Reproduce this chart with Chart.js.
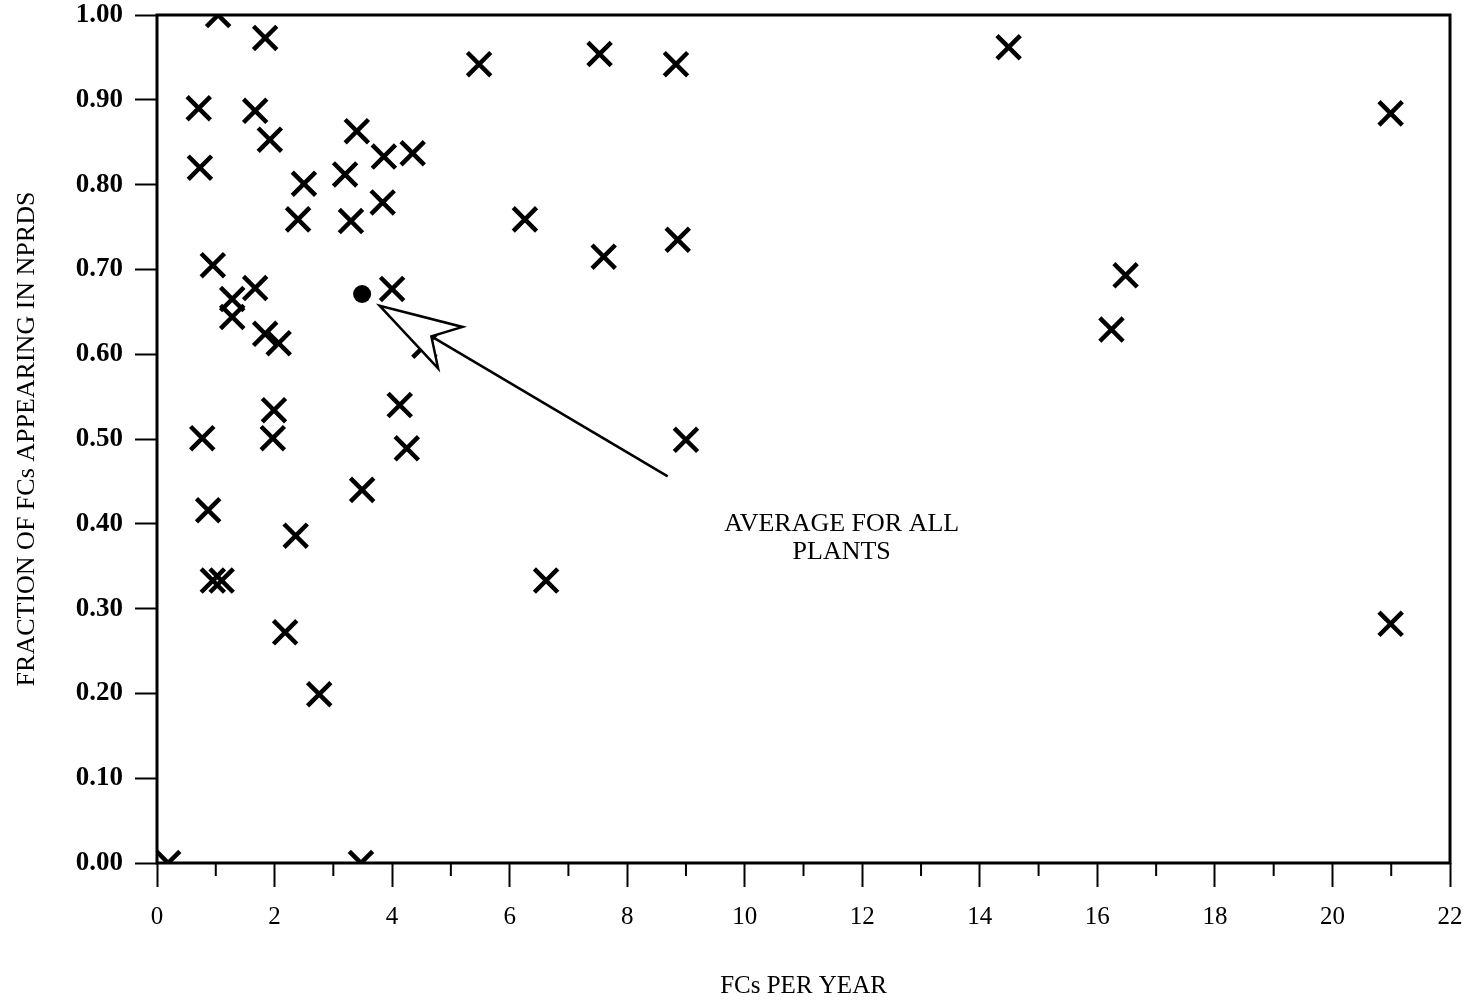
<!DOCTYPE html>
<html>
<head>
<meta charset="utf-8">
<title>Fraction of FCs appearing in NPRDS</title>
<script src="https://cdn.jsdelivr.net/npm/chart.js@4.4.1/dist/chart.umd.min.js"></script>
<style>
  html, body { margin: 0; padding: 0; background: #fff; }
  #wrap { width: 1470px; height: 1001px; }
</style>
</head>
<body>
<div id="wrap"><canvas id="fcChart" width="1470" height="1001"></canvas></div>
<script>
// ---- Data ----
const plantFcs = [
    1.04, 1.84, 0.71, 1.67, 1.92, 0.73, 2.50, 3.20, 3.40, 3.86,
    4.35, 2.40, 3.30, 3.84, 0.95, 1.67, 1.28, 1.28, 1.84, 2.07,
    4.00, 4.55, 1.99, 0.77, 1.97, 4.13, 4.25, 3.49, 0.87, 0.95,
    1.10, 2.36, 2.18, 2.76, 0.19, 3.47, 5.48, 7.53, 8.83, 6.26,
    7.60, 8.86, 9.00, 6.62, 14.49, 16.24, 16.48, 20.99, 20.99
];
const plantFrac = [
    1.000, 0.973, 0.890, 0.887, 0.853, 0.820, 0.801, 0.812, 0.863, 0.833,
    0.837, 0.759, 0.757, 0.779, 0.705, 0.678, 0.665, 0.644, 0.624, 0.613,
    0.677, 0.610, 0.534, 0.501, 0.501, 0.540, 0.489, 0.440, 0.416, 0.333,
    0.333, 0.386, 0.272, 0.199, 0.000, 0.000, 0.942, 0.954, 0.942, 0.759,
    0.715, 0.735, 0.499, 0.333, 0.962, 0.629, 0.693, 0.884, 0.282
];
const avgFcs = [3.49];
const avgFrac = [0.671];

// annotation (data units)
const arrowTip = [3.79, 0.657];
const arrowTail = [8.69, 0.456];
const noteAt = [11.65, 0.40];
const noteLines = ['AVERAGE FOR ALL', 'PLANTS'];

const SERIF = 'Liberation Serif';

// ---- Frame, minor ticks, arrow + note ----
const frameAndNotes = {
    id: 'frameAndNotes',
    afterDatasetsDraw(chart) {
        const { ctx, chartArea: a, scales: { x, y } } = chart;
        ctx.save();

        // short ticks on the odd values
        ctx.strokeStyle = '#000';
        ctx.lineWidth = 2;
        x.ticks.forEach(t => {
            if (t.value % 2 !== 0) {
                const px = x.getPixelForValue(t.value);
                ctx.beginPath();
                ctx.moveTo(px, a.bottom);
                ctx.lineTo(px, a.bottom + 13);
                ctx.stroke();
            }
        });

        // box round the plot
        ctx.lineWidth = 3;
        ctx.strokeRect(a.left, a.top, a.right - a.left, a.bottom - a.top);

        // hollow arrow
        const tx = x.getPixelForValue(arrowTip[0]), ty = y.getPixelForValue(arrowTip[1]);
        const ex = x.getPixelForValue(arrowTail[0]), ey = y.getPixelForValue(arrowTail[1]);
        const len = Math.hypot(ex - tx, ey - ty);
        const ux = (ex - tx) / len, uy = (ey - ty) / len;
        const nx = -uy, ny = ux;
        const nX = tx + ux * 60, nY = ty + uy * 60;

        ctx.lineWidth = 2.5;
        ctx.lineJoin = 'miter';
        ctx.beginPath();
        ctx.moveTo(tx, ty);
        ctx.lineTo(tx + ux * 82 + nx * 24, ty + uy * 82 + ny * 24);
        ctx.lineTo(nX, nY);
        ctx.lineTo(tx + ux * 82 - nx * 24, ty + uy * 82 - ny * 24);
        ctx.closePath();
        ctx.fillStyle = '#fff';
        ctx.fill();
        ctx.stroke();

        ctx.beginPath();
        ctx.moveTo(nX, nY);
        ctx.lineTo(ex, ey);
        ctx.stroke();

        // note text
        ctx.fillStyle = '#000';
        ctx.font = '26px "' + SERIF + '"';
        ctx.textAlign = 'center';
        ctx.textBaseline = 'middle';
        const cx = x.getPixelForValue(noteAt[0]), cy = y.getPixelForValue(noteAt[1]);
        noteLines.forEach((line, i) => ctx.fillText(line, cx, cy + i * 28));

        ctx.restore();
    }
};

const ctx = document.getElementById('fcChart').getContext('2d');
window.fcChart = new Chart(ctx, {
    type: 'scatter',
    data: {
        datasets: [
            {
                label: 'Plants',
                data: plantFcs.map((v, i) => ({ x: v, y: plantFrac[i] })),
                pointStyle: 'crossRot',
                pointRadius: 16.5,
                pointBorderWidth: 4.5,
                borderColor: '#000',
                backgroundColor: '#000',
                clip: 0
            },
            {
                label: 'Average for all plants',
                data: avgFcs.map((v, i) => ({ x: v, y: avgFrac[i] })),
                pointStyle: 'circle',
                pointRadius: 9,
                pointBorderWidth: 0,
                backgroundColor: '#000',
                borderColor: '#000'
            }
        ]
    },
    options: {
        responsive: false,
        animation: false,
        events: [],
        layout: { autoPadding: false, padding: { top: 15, right: 20, left: 0, bottom: 0 } },
        plugins: { legend: { display: false }, tooltip: { enabled: false } },
        scales: {
            x: {
                type: 'linear',
                min: 0, max: 22,
                border: { display: false },
                grid: {
                    drawOnChartArea: false,
                    tickLength: 24,
                    tickWidth: 2,
                    tickColor: c => (c.tick && c.tick.value % 2 === 0) ? '#000' : 'rgba(0,0,0,0)'
                },
                ticks: {
                    stepSize: 1,
                    autoSkip: false,
                    maxRotation: 0,
                    padding: 15,
                    color: '#000',
                    font: { family: SERIF, size: 25 },
                    callback: v => (v % 2 === 0 ? String(v) : '')
                },
                title: {
                    display: true,
                    text: 'FCs PER YEAR',
                    color: '#000',
                    font: { family: SERIF, size: 25 },
                    padding: { top: 0, bottom: 0 }
                },
                afterFit(scale) { scale.height = 138; scale.paddingLeft = 0; scale.paddingRight = 0; }
            },
            y: {
                type: 'linear',
                min: 0, max: 1,
                border: { display: false },
                grid: { drawOnChartArea: false, tickLength: 22, tickWidth: 2, tickColor: '#000' },
                ticks: {
                    stepSize: 0.1,
                    padding: 12,
                    color: '#000',
                    font: { family: SERIF, size: 27, weight: 'bold' },
                    callback: v => Number(v).toFixed(2)
                },
                title: {
                    display: true,
                    text: 'FRACTION OF FCs APPEARING IN NPRDS',
                    color: '#000',
                    font: { family: SERIF, size: 26 },
                    padding: { top: 12, bottom: 0 }
                },
                afterFit(scale) { scale.width = 157; scale.paddingTop = 0; scale.paddingBottom = 0; }
            }
        }
    },
    plugins: [frameAndNotes]
});
</script>
</body>
</html>
